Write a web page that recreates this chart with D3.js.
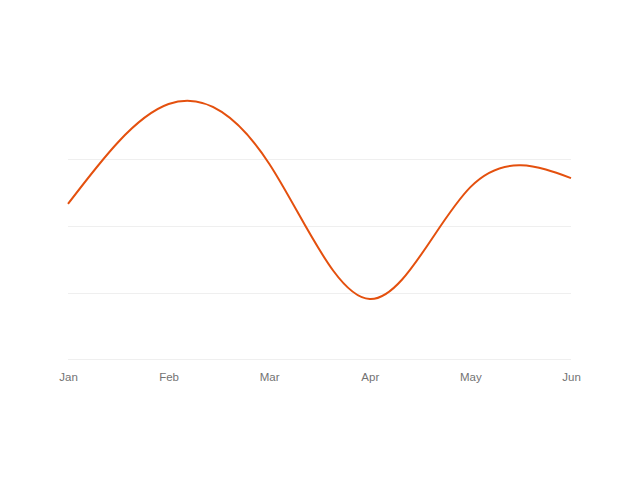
<!DOCTYPE html>
<html lang="en">
<head>
    <meta charset="UTF-8">
    <title>Monthly line</title>
    <script src="https://d3js.org/d3.v7.min.js"></script>
    <style>
        html, body { margin: 0; padding: 0; background: #fff; overflow: hidden; }
        svg { display: block; }
        .tick text { font-family: "Liberation Sans", Arial, sans-serif; }
    </style>
</head>
<body>
    <div id="chart"></div>
    <script>
        const months = ["Jan", "Feb", "Mar", "Apr", "May", "Jun"];
        const values = [46.6, 76.4, 58.6, 18.2, 51.6, 54.3];
        const gridTicks = [0, 20, 40, 60];

        const width = 640;
        const height = 480;
        const margin = { top: 98.7, right: 69, bottom: 120, left: 68 };
        const innerWidth = width - margin.left - margin.right;
        const innerHeight = height - margin.top - margin.bottom;

        const data = months.map((m, i) => ({ month: m, value: values[i] }));

        const svg = d3.select("#chart")
            .append("svg")
            .attr("width", width)
            .attr("height", height);

        const g = svg.append("g")
            .attr("transform", `translate(${margin.left}, ${margin.top})`);

        const xScale = d3.scalePoint()
            .domain(months)
            .range([0, innerWidth]);

        const yScale = d3.scaleLinear()
            .domain([0, 78])
            .range([innerHeight, 0]);

        // light horizontal gridlines
        g.append("g")
            .selectAll("line")
            .data(gridTicks)
            .join("line")
            .attr("x1", 0)
            .attr("x2", innerWidth)
            .attr("y1", d => yScale(d))
            .attr("y2", d => yScale(d))
            .attr("stroke", "#efefef")
            .attr("stroke-width", 1)
            .attr("shape-rendering", "crispEdges");

        // x axis, labels only
        const xAxis = g.append("g")
            .attr("transform", `translate(0, ${innerHeight})`)
            .call(d3.axisBottom(xScale).tickSize(0).tickPadding(13));
        xAxis.select(".domain").remove();
        xAxis.selectAll("text")
            .attr("fill", "#737373")
            .attr("font-size", 11.5);

        const line = d3.line()
            .x(d => xScale(d.month))
            .y(d => yScale(d.value))
            .curve(d3.curveNatural);

        g.append("path")
            .datum(data)
            .attr("d", line)
            .attr("fill", "none")
            .attr("stroke", "#e4500e")
            .attr("stroke-width", 2);
    </script>
</body>
</html>
